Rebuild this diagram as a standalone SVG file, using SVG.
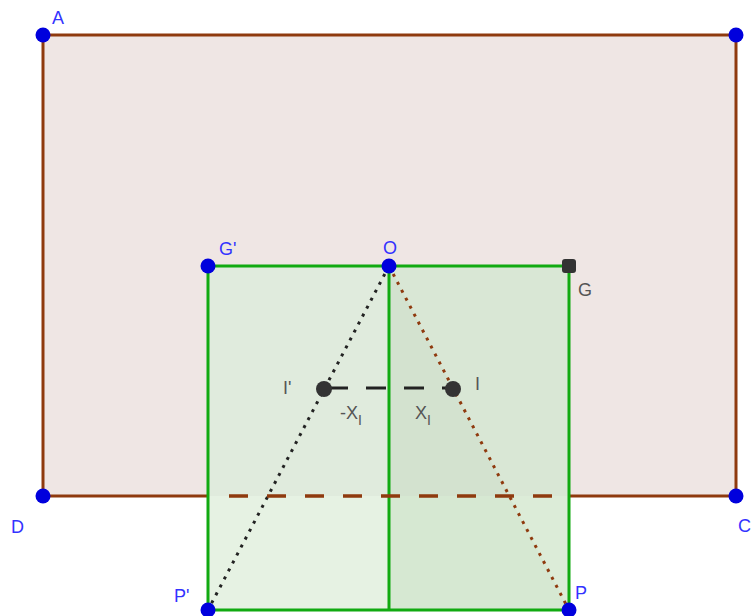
<svg xmlns="http://www.w3.org/2000/svg" width="755" height="616" viewBox="0 0 755 616">
<style>
.lbl{font-family:"Liberation Sans",Arial,sans-serif;font-size:18px;fill:#3333ff}
.glbl{font-family:"Liberation Sans",Arial,sans-serif;font-size:18px;fill:#555555}
.pt{fill:#0000dd}
.green{stroke:#11aa11;stroke-width:3;fill:none}
</style>
<rect width="755" height="616" fill="#ffffff"/>
<g id="rect-ABCD">
<rect x="43" y="35" width="693" height="461" fill="#efe6e4"/>
<polyline points="208,496 43,496 43,35 736,35 736,496 569,496" fill="none" stroke="#8f3a0e" stroke-width="3"/>
</g>
<g id="square">
<rect x="208" y="266" width="181" height="230" fill="#e0ebdd"/>
<rect x="389" y="266" width="180" height="230" fill="#d9e7d5"/>
<rect x="208" y="496" width="181" height="114" fill="#e6f2e3"/>
<rect x="389" y="496" width="180" height="114" fill="#dcecd8"/>
<polygon points="389,266 389,496 509,496" fill="#d3e2cf"/>
<polygon points="389,496 389,610 569,610 509,496" fill="#d6e8d2"/>
<rect x="208" y="266" width="361" height="344" class="green"/>
</g>
<g id="connectors">
<line x1="389" y1="266" x2="389" y2="610" class="green"/>
<line x1="389" y1="266" x2="208" y2="610" stroke="#222" stroke-width="3" stroke-dasharray="3,6"/>
<line x1="389" y1="266" x2="569" y2="610" stroke="#8f3a0e" stroke-width="3" stroke-dasharray="3,6"/>
<line x1="210" y1="496" x2="569" y2="496" stroke="#8f3a0e" stroke-width="3.5" stroke-dasharray="19,19" stroke-dashoffset="-19"/>
<line x1="324" y1="388" x2="453" y2="388" stroke="#222" stroke-width="3" stroke-dasharray="20,18" stroke-dashoffset="-4"/>
</g>
<g id="A"><circle cx="43" cy="35" r="7.5" class="pt"/><text x="52" y="24" class="lbl">A</text></g>
<g id="B"><circle cx="736" cy="35" r="7.5" class="pt"/></g>
<g id="C"><circle cx="736" cy="496" r="7.5" class="pt"/><text x="738" y="532" class="lbl">C</text></g>
<g id="D"><circle cx="43" cy="496" r="7.5" class="pt"/><text x="11" y="533" class="lbl">D</text></g>
<g id="Gp"><circle cx="208" cy="266" r="7.5" class="pt"/><text x="219" y="255" class="lbl">G'</text></g>
<g id="O"><circle cx="389" cy="266" r="7.5" class="pt"/><text x="383" y="254" class="lbl">O</text></g>
<g id="G"><rect x="562" y="259" width="14" height="14" rx="3" fill="#333333"/><text x="578" y="296" class="glbl">G</text></g>
<g id="Pp"><circle cx="208" cy="610" r="7.5" class="pt"/><text x="174" y="602" class="lbl">P'</text></g>
<g id="P"><circle cx="569" cy="610" r="7.5" class="pt"/><text x="575" y="599" class="lbl">P</text></g>
<g id="Ip"><circle cx="324" cy="389" r="8" fill="#333333"/><text x="283" y="394" class="glbl">I'</text></g>
<g id="I"><circle cx="453" cy="389" r="8" fill="#333333"/><text x="475" y="390" class="glbl">I</text></g>
<g id="mXI"><text x="340" y="419" class="glbl">-X<tspan dy="6" font-size="14">I</tspan></text></g>
<g id="XI"><text x="415" y="419" class="glbl">X<tspan dy="6" font-size="14">I</tspan></text></g>
</svg>
